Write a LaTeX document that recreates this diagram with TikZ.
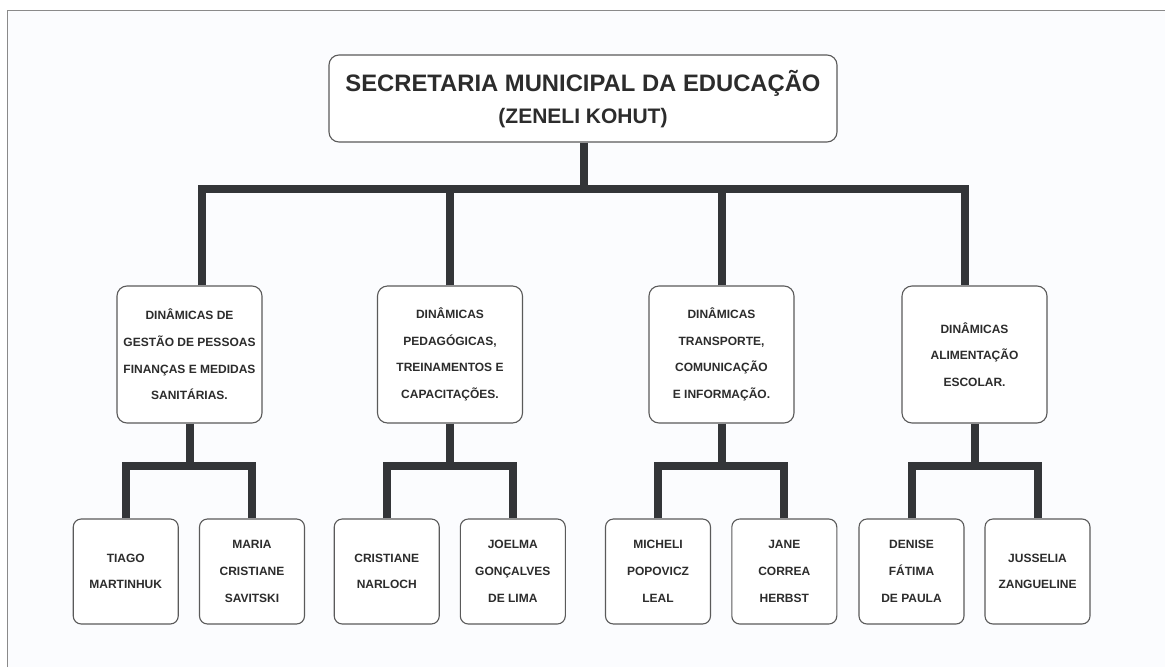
\documentclass[tikz,border=0pt]{standalone}
\usepackage{fontspec}
\setmainfont{Liberation Sans}
\definecolor{conncol}{HTML}{333538}
\definecolor{boxline}{HTML}{5A5A5A}
\definecolor{txtcol}{HTML}{2C2C2C}
\definecolor{bgcol}{HTML}{FBFCFE}
\definecolor{framecol}{HTML}{8A8A8A}
\tikzset{
  conn/.style={draw=conncol, line width=8pt, line join=miter, line cap=butt},
  topbox/.style={draw=boxline, line width=1.1pt, rounded corners=10pt, fill=white,
    minimum width=508pt, minimum height=87pt, inner sep=0pt, align=center,
    text=txtcol, font=\bfseries},
  midbox/.style={draw=boxline, line width=1.1pt, rounded corners=10pt, fill=white,
    minimum width=145pt, minimum height=137pt, inner sep=0pt, align=center,
    text=txtcol, font=\bfseries\fontsize{12}{26.7}\selectfont},
  leafbox/.style={draw=boxline, line width=1.1pt, rounded corners=8pt, fill=white,
    minimum width=105pt, minimum height=105pt, inner sep=0pt, align=center,
    text=txtcol, font=\bfseries\fontsize{12}{26.7}\selectfont},
}
\begin{document}
\begin{tikzpicture}[x=1pt, y=-1pt]
  \useasboundingbox (0,0) rectangle (1165,667);
  \fill[white] (0,0) rectangle (1165,667);
  \fill[bgcol] (7,10) rectangle (1165,667);
  \draw[framecol, line width=1pt] (7,667) -- (7,10) -- (1165,10);

  % top box
  \node[topbox] (top) at (583,98.5) {};
  \node[text=txtcol, font=\bfseries\fontsize{23.8}{28}\selectfont, inner sep=0pt] (t1) at (583,83) {SECRETARIA MUNICIPAL DA EDUCAÇÃO};
  \node[text=txtcol, font=\bfseries\fontsize{21}{25}\selectfont, inner sep=0pt] (t2) at (583,118) {(ZENELI KOHUT)};

  % second level
  \node[midbox] (d1) at (189.5,354.5) {DINÂMICAS DE\\GESTÃO DE PESSOAS\\FINANÇAS E MEDIDAS\\SANITÁRIAS.};
  \node[midbox] (d2) at (450,354.5) {DINÂMICAS\\PEDAGÓGICAS,\\TREINAMENTOS E\\CAPACITAÇÕES.};
  \node[midbox] (d3) at (721.5,354.5) {DINÂMICAS\\TRANSPORTE,\\COMUNICAÇÃO\\E INFORMAÇÃO.};
  \node[midbox] (d4) at (974.5,354.5) {DINÂMICAS\\ALIMENTAÇÃO\\ESCOLAR.};

  % leaves
  \node[leafbox] (p1) at (125.75,571.5) {TIAGO\\MARTINHUK};
  \node[leafbox] (p2) at (252,571.5) {MARIA\\CRISTIANE\\SAVITSKI};
  \node[leafbox] (p3) at (386.75,571.5) {CRISTIANE\\NARLOCH};
  \node[leafbox] (p4) at (512.8,571.5) {JOELMA\\GONÇALVES\\DE LIMA};
  \node[leafbox] (p5) at (658,571.5) {MICHELI\\POPOVICZ\\LEAL};
  \node[leafbox] (p6) at (784.3,571.5) {JANE\\CORREA\\HERBST};
  \node[leafbox] (p7) at (911.5,571.5) {DENISE\\FÁTIMA\\DE PAULA};
  \node[leafbox] (p8) at (1037.5,571.5) {JUSSELIA\\ZANGUELINE};

  % level-1 connectors
  \coordinate (bar) at (583.6,189);
  \draw[conn] ([xshift=0.6pt]top.south) -- ([xshift=0.6pt]top.south |- bar);
  \draw[conn] ([xshift=12.5pt]d1.north) |- ([xshift=-10pt]d4.north |- bar) -- ([xshift=-10pt]d4.north);
  \draw[conn] (d2.north) -- (d2.north |- bar);
  \draw[conn] (d3.north) -- (d3.north |- bar);

  % level-2 connectors
  \coordinate (lvl) at (0,466);
  \foreach \d/\a/\b in {d1/p1/p2, d2/p3/p4, d3/p5/p6, d4/p7/p8}{
    \draw[conn] (\d.south) -- (\d.south |- lvl);
    \draw[conn] (\a.north) |- (\b.north |- lvl) -- (\b.north);
  }
\end{tikzpicture}
\end{document}
